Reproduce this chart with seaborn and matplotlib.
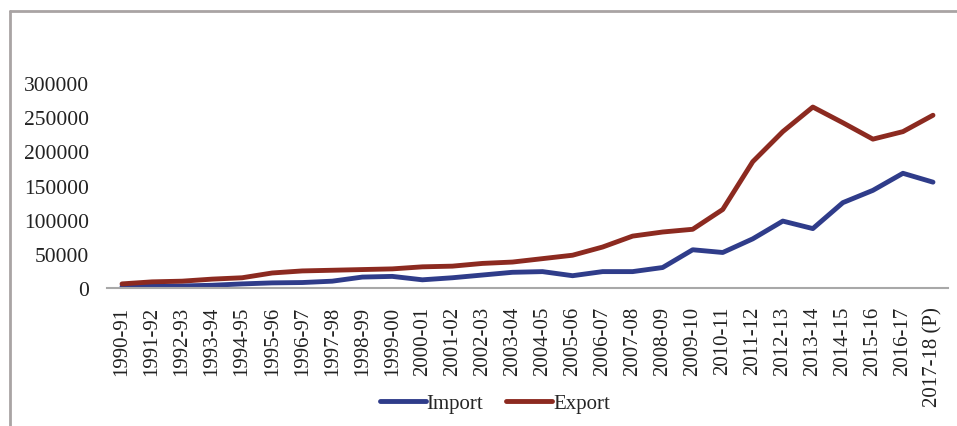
import numpy as np
import pandas as pd
import matplotlib
matplotlib.use("Agg")
import matplotlib.pyplot as plt
from matplotlib.lines import Line2D
import seaborn as sns

# Data
years = ['1990-91', '1991-92', '1992-93', '1993-94', '1994-95', '1995-96', '1996-97',
         '1997-98', '1998-99', '1999-00', '2000-01', '2001-02', '2002-03', '2003-04',
         '2004-05', '2005-06', '2006-07', '2007-08', '2008-09', '2009-10', '2010-11',
         '2011-12', '2012-13', '2013-14', '2014-15', '2015-16', '2016-17', '2017-18 (P)']
imports = [2000, 2500, 3000, 4000, 6000, 7500, 8000, 10000, 16000, 17000, 12000, 15000,
           19000, 23000, 24000, 18000, 24000, 24000, 30000, 56000, 52000, 72000, 98000,
           87000, 125000, 143000, 168000, 155000]
exports = [6000, 9000, 10000, 13000, 15000, 22000, 25000, 26000, 27000, 28000, 31000,
           32000, 36000, 38000, 43000, 48000, 60000, 76000, 82000, 86000, 115000, 185000,
           229000, 265000, 242000, 218000, 229000, 253000]
yticks = [0, 50000, 100000, 150000, 200000, 250000, 300000]

df = pd.DataFrame({
    'Year': years * 2,
    'Value': imports + exports,
    'Series': ['Import'] * len(years) + ['Export'] * len(years),
})

sns.set_style("white")
plt.rcParams['font.family'] = ['Liberation Serif', 'DejaVu Serif']

W, H = 957, 427
fig = plt.figure(figsize=(W / 100, H / 100), dpi=100)
fig.patch.set_facecolor('white')
ax = fig.add_axes([107 / W, (H - 289) / H, (948 - 107) / W, (289 - 50) / H])

sns.lineplot(data=df, x='Year', y='Value', hue='Series', sort=False,
             palette={'Import': '#2F3C8A', 'Export': '#8C2A20'},
             linewidth=3.5, ax=ax)

ax.set_xlim(-0.5, len(years) - 0.5)
ax.set_ylim(0, 350000)
ax.set_yticks(yticks)
ax.set_yticklabels([str(v) for v in yticks], fontsize=15.5, color='#222222')
ax.set_xticks(range(len(years)))
ax.set_xticklabels(years, rotation=90, fontsize=15, color='#222222')
ax.tick_params(axis='both', length=0, pad=13)
ax.set_xlabel('')
ax.set_ylabel('')
for side in ['top', 'right', 'left']:
    ax.spines[side].set_visible(False)
ax.spines['bottom'].set_color('#a8a8a8')
ax.spines['bottom'].set_linewidth(1.5)

handles, labels = ax.get_legend_handles_labels()
ax.legend(handles, labels, loc='center', bbox_to_anchor=(495 / W, 1 - 404 / H),
          bbox_transform=fig.transFigure, ncol=2, frameon=False, fontsize=15,
          handlelength=2.2, handletextpad=0.05, columnspacing=1.1)

# outer frame (cropped at the bottom and right in the original)
fig.lines.append(Line2D([10 / W, 10 / W], [0, 1 - 12 / H], transform=fig.transFigure,
                        color='#a9a4a4', linewidth=2))
fig.lines.append(Line2D([10 / W, 1], [1 - 12 / H, 1 - 12 / H], transform=fig.transFigure,
                        color='#a9a4a4', linewidth=2))

fig.savefig('out.png', dpi=100)
